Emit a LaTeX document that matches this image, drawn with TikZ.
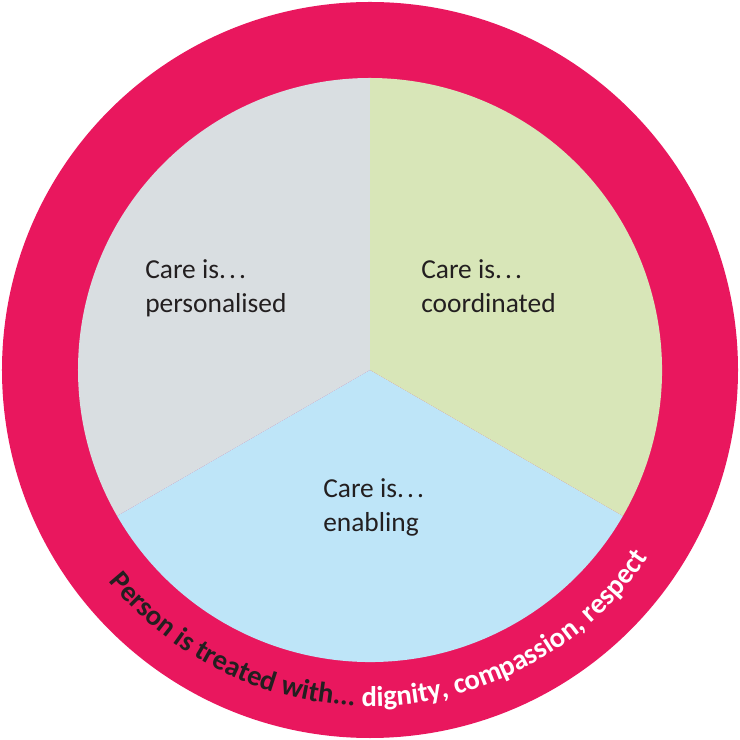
\documentclass[tikz,border=0pt]{standalone}
\usepackage{fontspec}
\setmainfont{Carlito}
\usepackage{xcolor}
\usetikzlibrary{decorations.text}
\definecolor{ringpink}{HTML}{E9175E}
\definecolor{persgrey}{HTML}{D9DEE1}
\definecolor{coordgreen}{HTML}{D8E6B8}
\definecolor{enabblue}{HTML}{BEE5F8}
\definecolor{inkdark}{HTML}{231F20}
\newcommand{\ringfont}{\fontsize{20.3}{24}\selectfont\bfseries}
\newcommand{\dotsgap}{.\kern2.2pt.\kern2.2pt.}

\begin{document}
\begin{tikzpicture}[
          x=0.025cm, y=0.025cm,
          lbl/.style={font=\fontsize{19.5}{24.5}\selectfont, text=inkdark, align=left, inner sep=0pt, anchor=base west},
          ring/.style={fill=ringpink},
          seg/.style={draw=none}
      ]
        \useasboundingbox (-370,-370) rectangle (370,370);
        \coordinate (c) at (0,0);
        \fill[ring] (c) circle[radius=368];
        \fill[seg, fill=persgrey] (c) -- (90:292) arc[start angle=90, end angle=210, radius=292] -- cycle;
        \fill[seg, fill=enabblue] (c) -- (210:292) arc[start angle=210, end angle=330, radius=292] -- cycle;
        \fill[seg, fill=coordgreen] (c) -- (330:292) arc[start angle=-30, end angle=90, radius=292] -- cycle;
        \node[lbl] (pers) at (-225,57) {Care is\dotsgap\\personalised};
        \node[lbl] (coord) at (51,57) {Care is\dotsgap\\coordinated};
        \node[lbl] (enab) at (-47,-162) {Care is\dotsgap\\enabling};
        % motto round the ring
        \path[decorate, decoration={text along path, text align=center,
            text={|\ringfont\color{inkdark}|Person is treated with... |\ringfont\color{white}|dignity, compassion, respect}}]
          (202.5:336) arc[start angle=202.5, end angle=342.5, radius=336];
      \end{tikzpicture}
\end{document}
